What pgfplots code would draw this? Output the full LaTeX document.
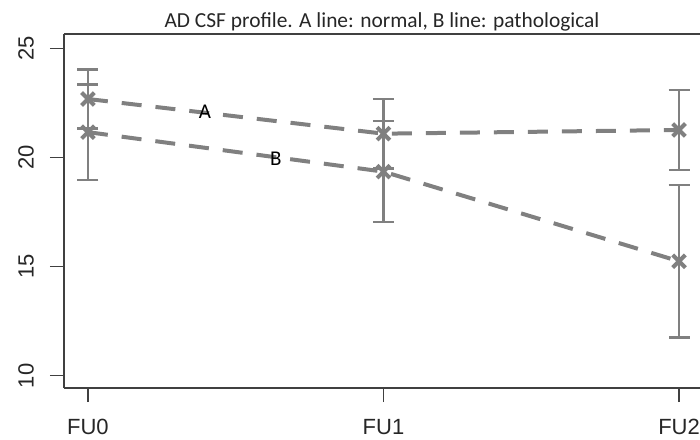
\documentclass[border=0pt]{standalone}
\usepackage{fontspec}
\setmainfont{Liberation Sans}
\newfontfamily\carlito{Carlito}
\usepackage{pgfplots}
\usepackage{pgfplotstable}
\pgfplotsset{compat=1.18}
\usetikzlibrary{calc}

\definecolor{seriesgray}{HTML}{808080}
\definecolor{axisgray}{HTML}{404040}

% mean and half-width of the error bar at each follow-up
\pgfplotstableread{
x  y     e
0  22.69 1.35
1  21.10 1.59
2  21.27 1.83
}\lineA
\pgfplotstableread{
x  y     e
0  21.17 2.18
1  19.36 2.31
2  15.25 3.50
}\lineB

\begin{document}
\begin{tikzpicture}
\begin{axis}[
    scale only axis,
    width=318pt, height=177pt,
    xmin=-0.081, xmax=2.071,
    ymin=9.44, ymax=25.67,
    axis x line*=box, axis y line*=left,
    axis line style={axisgray, line width=0.7pt},
    tick pos=left, tick align=outside,
    major tick length=7pt,
    tick style={axisgray, line width=0.7pt},
    xtick={0,1,2}, xticklabels={FU0,FU1,FU2},
    ytick={10,15,20,25},
    /pgf/number format/assume math mode=true,
    ticklabel style={font=\fontsize{11}{13}\selectfont, text=black!85},
    yticklabel style={rotate=90, anchor=south},
    xticklabel shift=5pt,
    yticklabel shift=4.5pt,
    clip=false,
]
\coordinate (sw) at (rel axis cs:0,0);
\coordinate (ne) at (rel axis cs:1,1);

\addplot[seriesgray, line width=2pt, dash pattern=on 10pt off 7pt,
    mark=x, mark size=4.5pt, mark options={solid, line width=2pt},
    error bars/.cd, y dir=both, y explicit,
    error bar style={solid, line width=1.2pt, seriesgray},
    error mark options={rotate=90, solid, line width=1.2pt, mark size=5.25pt, seriesgray}]
    table[x=x, y=y, y error=e] {\lineA};
\addplot[seriesgray, line width=2pt, dash pattern=on 10pt off 7pt,
    mark=x, mark size=4.5pt, mark options={solid, line width=2pt},
    error bars/.cd, y dir=both, y explicit,
    error bar style={solid, line width=1.2pt, seriesgray},
    error mark options={rotate=90, solid, line width=1.2pt, mark size=5.25pt, seriesgray}]
    table[x=x, y=y, y error=e] {\lineB};

\node[font=\carlito\fontsize{10.5}{12}\selectfont] at (axis cs:0.396,22.1) {A};
\node[font=\carlito\fontsize{10.5}{12}\selectfont] at (axis cs:0.636,19.93) {B};
\node[anchor=base, font=\carlito\fontsize{10.7}{12}\selectfont, text=black!85]
    at ([yshift=3pt]rel axis cs:0.5,1) {AD CSF profile. A line: normal, B line: pathological};
\end{axis}
\pgfresetboundingbox
\path[use as bounding box] ($(sw)+(-32pt,-25.5pt)$) rectangle ($(ne)+(0pt,17pt)$);
\end{tikzpicture}
\end{document}
